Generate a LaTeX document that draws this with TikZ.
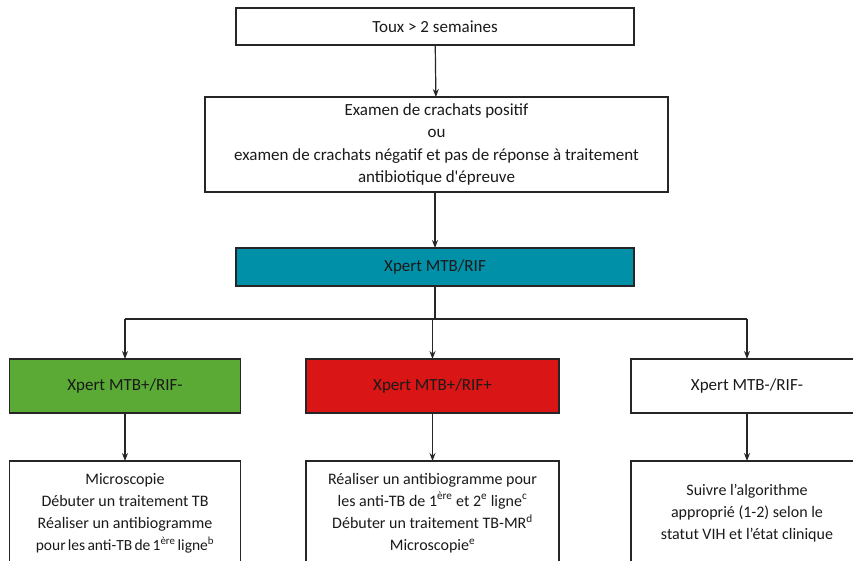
\documentclass[tikz,border=0pt]{standalone}
\usepackage{fontspec}
\setmainfont{Carlito}
\usetikzlibrary{arrows.meta,calc}
\definecolor{tealbox}{HTML}{0090A8}
\definecolor{greenbox}{HTML}{5AAA35}
\definecolor{redbox}{HTML}{D91515}
\definecolor{txt}{HTML}{1A1A1A}
\begin{document}
\begin{tikzpicture}[x=1pt,y=-1pt,
  box/.style={draw=black!85, line width=1.3pt, align=center, text=txt,
    font=\fontsize{17}{22.5}\selectfont, inner sep=0pt, outer sep=0pt},
  lowbox/.style={box, font=\fontsize{16}{22}\selectfont},
  arr/.style={draw=black!85, line width=1.2pt, -{Stealth[length=8pt,width=6pt]}},
  ln/.style={draw=black!85, line width=1.2pt}]
\clip (0,0) rectangle (853,561);
\fill[white] (0,0) rectangle (853,561);
\node[box, minimum width=398pt, minimum height=37pt] (toux) at (435,26.5) {Toux > 2 semaines};
\node[box, minimum width=463pt, minimum height=95pt] (exam) at (436.5,144.5)
  {Examen de crachats positif\\ou\\examen de crachats négatif et pas de réponse à traitement\\antibiotique d\textquotesingle épreuve};
\node[box, fill=tealbox, minimum width=398pt, minimum height=38pt] (xpert) at (435,267) {Xpert MTB/RIF};
\node[box, fill=greenbox, minimum width=231pt, minimum height=54pt] (pos) at (125,386) {Xpert MTB+/RIF-};
\node[box, fill=redbox, minimum width=253pt, minimum height=54pt] (res) at (432.5,386) {Xpert MTB+/RIF+};
\node[box, fill=white, minimum width=232pt, minimum height=54pt] (neg) at (747,386) {Xpert MTB-/RIF-};
\node[lowbox, minimum width=231pt, minimum height=104pt] (posb) at (125,513)
  {Microscopie\\Débuter un traitement TB\\Réaliser un antibiogramme\\{\spaceskip=0.14em\fontsize{15.5}{22}\selectfont pour les anti-TB de 1\textsuperscript{ère} ligne\textsuperscript{b}}};
\node[lowbox, minimum width=253pt, minimum height=104pt] (resb) at (432.5,513)
  {Réaliser un antibiogramme pour\\les anti-TB de 1\textsuperscript{ère} et 2\textsuperscript{e} ligne\textsuperscript{c}\\Débuter un traitement TB-MR\textsuperscript{d}\\Microscopie\textsuperscript{e}};
\node[lowbox, minimum width=232pt, minimum height=104pt] (negb) at (747,513)
  {Suivre l’algorithme\\approprié (1-2) selon le\\statut VIH et l’état clinique};
\coordinate (bar) at (0,319);
\draw[arr] (toux) -- (exam);
\draw[arr] (exam.south -| xpert.north) -- (xpert.north);
\draw[ln] (xpert.south) -- (xpert.south |- bar);
\draw[ln] (pos.north |- bar) -- (neg.north |- bar);
\draw[arr] (pos.north |- bar) -- (pos.north);
\draw[arr] (res.north |- bar) -- (res.north);
\draw[arr] (neg.north |- bar) -- (neg.north);
\draw[arr] (pos.south) -- (posb.north);
\draw[arr] (res.south) -- (resb.north);
\draw[arr] (neg.south) -- (negb.north);
\end{tikzpicture}
\end{document}
